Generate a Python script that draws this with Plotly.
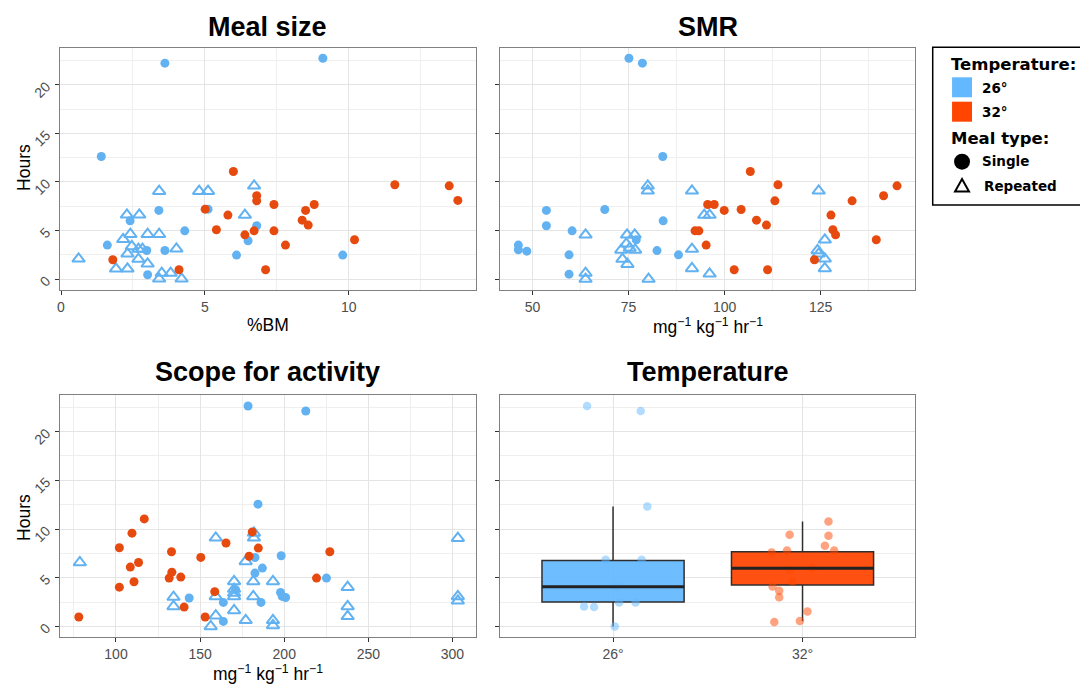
import plotly.graph_objects as go

W, H = 1080, 687

# ---------------- DATA ----------------
# Meal size panel (%BM vs Hours)
meal_26_single_x = [3.61, 9.10, 1.40, 3.40, 2.40, 1.61, 4.30, 3.61, 2.98, 3.01, 5.11, 6.50, 6.10, 6.80, 9.79]
meal_26_single_y = [22.23, 22.74, 12.62, 7.07, 6.0, 3.5, 4.97, 2.95, 2.95, 0.45, 7.2, 3.95, 2.47, 5.49, 2.47]
meal_26_rep_x = [0.61, 3.41, 4.80, 5.11, 6.71, 6.39, 2.29, 2.72, 2.41, 3.01, 3.41, 2.16, 2.46, 2.69, 2.83,
                 4.01, 2.31, 2.69, 3.01, 1.91, 2.31, 3.50, 3.81, 3.41, 4.19]
meal_26_rep_y = [2.09, 9.05, 9.05, 9.05, 9.6, 6.59, 6.62, 6.62, 4.62, 4.62, 4.62, 4.1, 3.36, 3.09, 3.09,
                 3.12, 2.6, 2.06, 1.57, 1.06, 1.06, 0.62, 0.62, 0.03, 0.03]
meal_32_x = [5.99, 11.6, 13.49, 13.79, 6.80, 6.80, 7.40, 8.80, 8.50, 5.01, 5.80, 8.38, 8.59, 5.40, 6.39,
             6.71, 7.40, 10.2, 7.80, 1.80, 4.10, 7.11]
meal_32_y = [11.08, 9.71, 9.6, 8.1, 8.58, 8.06, 7.68, 7.68, 7.07, 7.2, 6.59, 6.07, 5.56, 5.08, 4.56,
             4.97, 4.97, 4.05, 3.5, 1.99, 0.96, 0.96]

# SMR panel
smr_26_single_x = [75.1, 78.6, 83.9, 53.6, 53.6, 68.8, 84.0, 60.3, 46.3, 46.3, 48.5, 59.5, 59.5, 82.4, 88.0, 77.0]
smr_26_single_y = [22.74, 22.23, 12.62, 7.07, 5.49, 7.17, 6.0, 4.97, 3.5, 3.02, 2.88, 2.5, 0.51, 2.94, 2.5, 4.04]
smr_26_rep_x = [80.0, 80.0, 91.5, 124.5, 94.7, 96.1, 63.8, 74.6, 76.6, 74.4, 73.1, 75.3, 76.7, 91.5, 124.2,
                124.5, 126.1, 73.4, 74.7, 126.1, 63.8, 63.8, 91.5, 96.1, 80.2, 126.1]
smr_26_rep_y = [9.6, 9.09, 9.09, 9.09, 6.59, 6.59, 4.56, 4.56, 4.56, 3.63, 3.0, 3.2, 3.0, 3.09, 2.95,
                2.6, 4.05, 2.06, 1.54, 2.09, 0.62, 0.0, 1.1, 0.55, 0.0, 1.1]
smr_32_x = [106.7, 113.9, 144.9, 141.4, 133.2, 113.1, 95.6, 97.3, 99.9, 104.3, 127.7, 108.3, 110.9, 92.3,
            93.3, 128.2, 128.9, 139.5, 95.2, 123.4, 102.5, 111.2]
smr_32_y = [11.08, 9.71, 9.6, 8.58, 8.06, 8.06, 7.68, 7.68, 7.07, 7.17, 6.59, 6.07, 5.56, 4.97,
            4.97, 5.08, 4.56, 4.05, 3.5, 1.99, 0.96, 0.96]

# Scope for activity panel
scope_26_single_x = [178.5, 212.8, 184.4, 182.6, 198.2, 187.0, 182.6, 225.1, 143.5, 163.8, 186.2, 197.8,
                     198.8, 200.8, 163.8, 171.1]
scope_26_single_y = [22.63, 22.12, 12.55, 7.07, 7.25, 5.99, 5.47, 4.96, 2.91, 2.46, 2.46, 3.49,
                     3.08, 2.97, 0.51, 3.76]
scope_26_rep_x = [78.5, 159.3, 182.0, 182.0, 303.2, 177.1, 170.2, 181.6, 193.3, 237.7, 134.2, 134.2, 159.3,
                  170.2, 170.2, 170.2, 181.6, 237.7, 303.2, 303.2, 159.3, 170.2, 177.1, 237.7, 156.3, 193.3, 193.3]
scope_26_rep_y = [6.56, 9.1, 9.6, 9.1, 9.06, 6.67, 4.62, 4.62, 4.62, 4.03, 3.01, 2.05, 3.08,
                  3.83, 3.42, 3.08, 3.08, 2.05, 3.08, 2.63, 1.1, 1.64, 0.62, 1.03, 0.0, 0.62, 0.1]
scope_32_x = [116.8, 109.5, 181.0, 102.0, 184.6, 133.0, 227.1, 179.1, 150.4, 165.4, 113.4, 108.5, 133.2,
              131.6, 138.5, 219.2, 102.0, 110.7, 158.7, 140.5, 77.9, 153.0]
scope_32_y = [11.04, 9.57, 9.7, 8.07, 8.04, 7.66, 7.66, 7.2, 7.08, 8.56, 6.56, 6.09, 5.57,
              4.96, 5.06, 4.96, 4.03, 4.58, 3.57, 1.98, 0.96, 0.96]

# Temperature panel (box plot + jittered points)
temp_labels = ["26°", "32°"]
temp_q1 = [2.50, 4.24]
temp_median = [4.07, 5.98]
temp_q3 = [6.77, 7.66]
temp_lower = [0.0, 0.55]
temp_upper = [12.31, 10.77]
temp_26_jitter = [-0.137, 0.146, 0.181, -0.039, 0.151, -0.153, -0.100, 0.032, 0.119, 0.009, 0.018]
temp_26_y = [22.63, 22.12, 12.31, 6.84, 6.84, 2.05, 1.98, 2.46, 2.46, 0.0, 4.03]
temp_32_jitter = [0.137, -0.068, 0.137, 0.118, -0.082, 0.167, -0.163, -0.068, 0.053, -0.053, -0.158,
                  -0.123, -0.123, 0.026, -0.149, -0.014]
temp_32_y = [10.77, 9.4, 9.3, 8.27, 7.8, 7.8, 7.6, 5.8, 5.98, 4.6, 4.1,
             3.66, 3.0, 1.54, 0.44, 0.55]

# ---------------- STYLE ----------------
BLUE_PT = "#62B2F2"
RED_PT = "#E64A0E"
BLUE_BOX = "#63B8FF"
RED_BOX = "#FF4500"
TICK_FONT = dict(family="Liberation Sans, Arial, sans-serif", size=14, color="#4D4D4D")
TITLE_FONT = dict(family="Liberation Sans, Arial, sans-serif", size=27, color="black")
AX_FONT = dict(family="Liberation Sans, Arial, sans-serif", size=17.5, color="black")
LEG_FONT = "DejaVu Sans, Verdana, sans-serif"


def px(x):
    return x / W


def py(y):
    return 1 - y / H


fig = go.Figure()


def add_scatter(xs, ys, color, symbol, xa, ya):
    if symbol == "circle":
        marker = dict(color=color, size=9, symbol="circle", line=dict(width=0))
    else:
        marker = dict(color=color, size=11, symbol="triangle-up-open", line=dict(width=2, color=color))
    fig.add_trace(go.Scatter(x=xs, y=ys, mode="markers", marker=marker, xaxis=xa, yaxis=ya,
                             showlegend=False, hoverinfo="skip"))


# Meal size
add_scatter(meal_26_rep_x, meal_26_rep_y, BLUE_PT, "tri", "x", "y")
add_scatter(meal_26_single_x, meal_26_single_y, BLUE_PT, "circle", "x", "y")
add_scatter(meal_32_x, meal_32_y, RED_PT, "circle", "x", "y")
# SMR
add_scatter(smr_26_rep_x, smr_26_rep_y, BLUE_PT, "tri", "x2", "y2")
add_scatter(smr_26_single_x, smr_26_single_y, BLUE_PT, "circle", "x2", "y2")
add_scatter(smr_32_x, smr_32_y, RED_PT, "circle", "x2", "y2")
# Scope
add_scatter(scope_26_rep_x, scope_26_rep_y, BLUE_PT, "tri", "x3", "y3")
add_scatter(scope_26_single_x, scope_26_single_y, BLUE_PT, "circle", "x3", "y3")
add_scatter(scope_32_x, scope_32_y, RED_PT, "circle", "x3", "y3")

# Temperature: jittered points
fig.add_trace(go.Scatter(x=[1 + j for j in temp_26_jitter], y=temp_26_y, mode="markers",
                         marker=dict(color=BLUE_BOX, size=8.5, opacity=0.5), xaxis="x4", yaxis="y4",
                         showlegend=False, hoverinfo="skip"))
fig.add_trace(go.Scatter(x=[2 + j for j in temp_32_jitter], y=temp_32_y, mode="markers",
                         marker=dict(color=RED_BOX, size=8.5, opacity=0.5), xaxis="x4", yaxis="y4",
                         showlegend=False, hoverinfo="skip"))

BOX_W = 0.75
for i, col in enumerate(["rgba(99,184,255,0.93)", "rgba(255,69,0,0.93)"]):
    pos = i + 1
    fig.add_trace(go.Box(x=[pos], q1=[temp_q1[i]], median=[temp_median[i]], q3=[temp_q3[i]],
                         lowerfence=[temp_lower[i]], upperfence=[temp_upper[i]], width=BOX_W,
                         fillcolor=col, line=dict(color="#2E2E2E", width=1.5), whiskerwidth=0,
                         boxpoints=False, xaxis="x4", yaxis="y4", showlegend=False, hoverinfo="skip"))
    fig.add_trace(go.Scatter(x=[pos - BOX_W / 2, pos + BOX_W / 2], y=[temp_median[i], temp_median[i]],
                             mode="lines", line=dict(color="#222222", width=3), xaxis="x4", yaxis="y4",
                             showlegend=False, hoverinfo="skip"))

# ---------------- AXES ----------------
xd_l = [px(57.3), px(474)]
xd_r = [px(498.3), px(915)]
yd_t = [py(290), py(48.3)]
yd_b = [py(637.3), py(395)]
YR = [-1.12, 23.76]

common = dict(showline=True, mirror=True, linecolor="#808080", linewidth=1.3,
              ticks="outside", ticklen=4, tickwidth=1.2, tickcolor="#333333",
              showgrid=True, gridcolor="#E4E4E4", gridwidth=1.2, zeroline=False,
              tickfont=TICK_FONT)


def xaxis(domain, rng, dtick, minor_dtick, anchor, **kw):
    d = dict(common, domain=domain, range=rng, anchor=anchor, **kw)
    if dtick is not None:
        d["dtick"] = dtick
        d["tick0"] = 0
    if minor_dtick is not None:
        d["minor"] = dict(dtick=minor_dtick, tick0=0, showgrid=True, gridcolor="#EFEFEF", gridwidth=0.8, ticks="")
    return d


def yaxis(domain, anchor, labels):
    return dict(common, domain=domain, range=YR, anchor=anchor, dtick=5, tick0=0,
                minor=dict(dtick=2.5, tick0=0, showgrid=True, gridcolor="#EFEFEF", gridwidth=0.8, ticks=""),
                showticklabels=labels, tickangle=-45, ticklabelstandoff=6)


fig.update_layout(
    xaxis=xaxis(xd_l, [-0.03, 14.41], 5, 2.5, "y"),
    yaxis=yaxis(yd_t, "x", True),
    xaxis2=xaxis(xd_r, [41.5, 149.7], 25, 12.5, "y2"),
    yaxis2=yaxis(yd_t, "x2", False),
    xaxis3=xaxis(xd_l, [66.8, 313.8], 50, 25, "y3"),
    yaxis3=yaxis(yd_b, "x3", True),
    xaxis4=xaxis(xd_r, [0.403, 2.596], None, None, "y4", tickmode="array", tickvals=[1, 2],
                  ticktext=temp_labels),
    yaxis4=yaxis(yd_b, "x4", False),
)

# ---------------- TEXT ----------------
ann = []


def text(t, x, y, font, xanchor="center", yanchor="middle", angle=0):
    ann.append(dict(text=t, x=px(x), y=py(y), xref="paper", yref="paper", showarrow=False,
                    xanchor=xanchor, yanchor=yanchor, font=font, textangle=angle))


bold_title = "<b>%s</b>"
text(bold_title % "Meal size", 265.5, 27, TITLE_FONT)
text(bold_title % "SMR", 706.5, 27, TITLE_FONT)
text(bold_title % "Scope for activity", 265.5, 372, TITLE_FONT)
text(bold_title % "Temperature", 706.5, 372, TITLE_FONT)

text("Hours", 21, 167, AX_FONT, angle=-90)
text("Hours", 21, 517, AX_FONT, angle=-90)
unit = "mg<sup>−1</sup> kg<sup>−1</sup> hr<sup>−1</sup>"
text("%BM", 265.5, 325, AX_FONT)
text(unit, 706.5, 326, AX_FONT)
text(unit, 265.5, 673, AX_FONT)

lf_big = dict(family=LEG_FONT, size=16.5, color="black")
lf_small = dict(family=LEG_FONT, size=13.5, color="black")
text("<b>Temperature:</b>", 949, 65, lf_big, xanchor="left")
text("<b>26°</b>", 980, 88, lf_small, xanchor="left")
text("<b>32°</b>", 980, 112, lf_small, xanchor="left")
text("<b>Meal type:</b>", 949, 138, lf_big, xanchor="left")
text("<b>Single</b>", 980, 161, lf_small, xanchor="left")
text("<b>Repeated</b>", 982, 186, lf_small, xanchor="left")

shapes = [
    dict(type="rect", xref="paper", yref="paper", x0=px(932.3), x1=px(1090), y0=py(205), y1=py(47.3),
         line=dict(color="black", width=1.5), fillcolor="rgba(0,0,0,0)"),
    dict(type="rect", xref="paper", yref="paper", x0=px(951.7), x1=px(971.7), y0=py(97.3), y1=py(77.3),
         line=dict(width=0), fillcolor=BLUE_BOX),
    dict(type="rect", xref="paper", yref="paper", x0=px(951.7), x1=px(971.7), y0=py(121.7), y1=py(101.7),
         line=dict(width=0), fillcolor=RED_BOX),
    dict(type="circle", xref="paper", yref="paper", x0=px(953.7), x1=px(969.7), y0=py(169.7), y1=py(153.7),
         line=dict(width=0), fillcolor="black"),
    dict(type="path", xref="paper", yref="paper",
         path="M %f,%f L %f,%f L %f,%f Z" % (px(954.7), py(191.5), px(968.7), py(191.5), px(961.7), py(179)),
         line=dict(color="black", width=2), fillcolor="rgba(0,0,0,0)"),
]

fig.update_layout(width=W, height=H, margin=dict(l=0, r=0, t=0, b=0), paper_bgcolor="white",
                  plot_bgcolor="white", annotations=ann, shapes=shapes, showlegend=False)

fig.write_html("out.html")
